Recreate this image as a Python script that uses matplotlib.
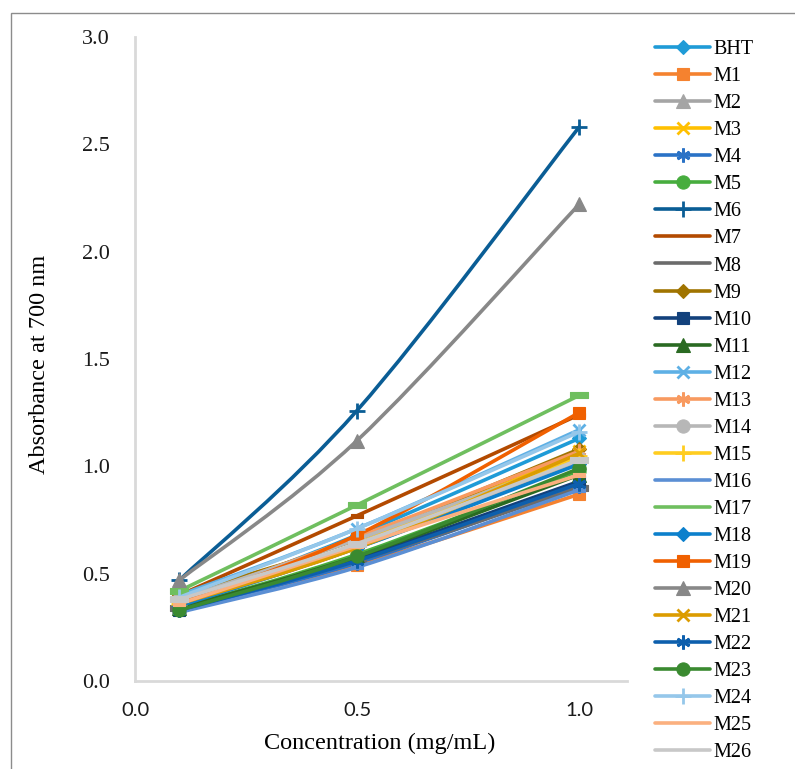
import numpy as np
import matplotlib.pyplot as plt
from matplotlib.path import Path
from matplotlib.patches import PathPatch, Rectangle
from matplotlib.lines import Line2D

# concentrations (mg/mL)
conc = [0.1, 0.5, 1.0]

series_names = ['BHT'] + ['M%d' % i for i in range(1, 27)]

# absorbance at 700 nm
bht = [0.36, 0.68, 1.13]
m1 = [0.34, 0.54, 0.87]
m2 = [0.35, 0.62, 1.02]
m3 = [0.35, 0.64, 1.07]
m4 = [0.33, 0.55, 0.91]
m5 = [0.34, 0.59, 0.98]
m6 = [0.47, 1.26, 2.58]
m7 = [0.40, 0.77, 1.24]
m8 = [0.34, 0.56, 0.90]
m9 = [0.40, 0.66, 1.08]
m10 = [0.33, 0.57, 0.93]
m11 = [0.34, 0.58, 0.96]
m12 = [0.40, 0.71, 1.17]
m13 = [0.37, 0.67, 1.07]
m14 = [0.38, 0.66, 1.04]
m15 = [0.36, 0.63, 1.05]
m16 = [0.32, 0.53, 0.89]
m17 = [0.42, 0.82, 1.33]
m18 = [0.35, 0.62, 1.01]
m19 = [0.36, 0.68, 1.25]
m20 = [0.47, 1.12, 2.22]
m21 = [0.36, 0.62, 1.06]
m22 = [0.33, 0.56, 0.92]
m23 = [0.33, 0.58, 0.99]
m24 = [0.39, 0.71, 1.16]
m25 = [0.36, 0.63, 0.96]
m26 = [0.38, 0.64, 1.03]

values = [bht, m1, m2, m3, m4, m5, m6, m7, m8, m9, m10, m11, m12, m13,
          m14, m15, m16, m17, m18, m19, m20, m21, m22, m23, m24, m25, m26]

colors = ['#1f9bd7', '#f5822f', '#a5a5a5', '#ffc000', '#2a72c6', '#47ad3e',
          '#0a5d95', '#b34a00', '#6b6b6b', '#a07400', '#12417c', '#2a6a22',
          '#5eb0e5', '#f89a60', '#b7b7b7', '#ffcd20', '#5b8fd4', '#6fbf5f',
          '#0c80cc', '#f06000', '#888888', '#dc9c00', '#0d5fad', '#3a8a30',
          '#95c7ea', '#fbb07f', '#c8c8c8']

# Excel automatic marker cycle: diamond, square, triangle, x, star, circle, plus, dash, long dash
dash = [(-1, -0.3), (1, -0.3), (1, 0.3), (-1, 0.3), (-1, -0.3)]
marker_cycle = [('D', 7.5), ('s', 8.5), ('^', 10), ('x', 8), ((6, 2, 0), 10),
                ('o', 9.5), ('+', 11), (dash, 9), (dash, 13)]


def smooth_path(xs, ys):
    # Excel-like smoothed line: cubic Bezier through the points (Catmull-Rom tangents)
    pts = np.column_stack([xs, ys]).astype(float)
    verts = [pts[0]]
    codes = [Path.MOVETO]
    n = len(pts)
    for i in range(n - 1):
        p0 = pts[i - 1] if i > 0 else pts[i]
        p1 = pts[i]
        p2 = pts[i + 1]
        p3 = pts[i + 2] if i + 2 < n else pts[i + 1]
        c1 = p1 + (p2 - p0) / 6.0
        c2 = p2 - (p3 - p1) / 6.0
        verts += [c1, c2, p2]
        codes += [Path.CURVE4] * 3
    return Path(verts, codes)


fig = plt.figure(figsize=(7.95, 7.69), dpi=100)
ax = fig.add_axes([135 / 795, 88 / 769, 492 / 795, 644 / 769])

# outer chart border (cropped on the right and bottom)
fig.patches.append(Rectangle((11 / 795, -0.05), 1.1, 1 - 13 / 769 + 0.05,
                             transform=fig.transFigure, fill=False,
                             edgecolor='#8c8c8c', linewidth=1.0))

handles = []
for idx, (name, vals) in enumerate(zip(series_names, values)):
    c = colors[idx]
    mk, ms = marker_cycle[idx % len(marker_cycle)]
    ax.add_patch(PathPatch(smooth_path(conc, vals), fill=False, edgecolor=c,
                           linewidth=2.6, capstyle='round', joinstyle='round',
                           zorder=2 + idx * 0.01))
    mew = 2.0 if mk in ('x', '+') or isinstance(mk, tuple) else 0.8
    ax.plot(conc, vals, linestyle='none', marker=mk, markersize=ms,
            color=c, markeredgecolor=c, markeredgewidth=mew,
            zorder=2.005 + idx * 0.01)
    # dash markers disappear into the line in the legend
    leg_mk = None if isinstance(mk, list) else mk
    handles.append(Line2D([], [], color=c, linewidth=2.6, marker=leg_mk,
                          markersize=ms, markeredgecolor=c,
                          markeredgewidth=mew, solid_capstyle='round'))

ax.set_xlim(0, 1.108)
ax.set_ylim(0, 3.0)
ax.set_xticks([0.0, 0.5, 1.0])
ax.set_xticklabels(['0.0', '0.5', '1.0'], fontfamily='Lato', fontsize=14.5,
                   color='#1a1a1a')
ax.set_yticks(np.arange(0, 3.01, 0.5))
ax.set_yticklabels(['%.1f' % v for v in np.arange(0, 3.01, 0.5)],
                   fontfamily='Liberation Serif', fontsize=16, color='#1a1a1a')
ax.tick_params(axis='both', length=0)
ax.tick_params(axis='x', pad=15)
ax.tick_params(axis='y', pad=18)
for s in ['top', 'right']:
    ax.spines[s].set_visible(False)
for s in ['left', 'bottom']:
    ax.spines[s].set_color('#d9d9d9')
    ax.spines[s].set_linewidth(2.0)

fig.text(40 / 795, 1 - 364 / 769, 'Absorbance at 700 nm', rotation=90,
         ha='center', va='center', fontfamily='Liberation Serif', fontsize=17.5)
fig.text(380 / 795, 1 - 743 / 769, 'Concentration (mg/mL)', ha='center',
         va='center', fontfamily='Liberation Serif', fontsize=17.5)

fig.legend(handles, series_names, loc='upper left',
           bbox_to_anchor=(655 / 795, 1 - 40 / 769), frameon=False,
           prop={'family': 'Liberation Serif', 'size': 14.5},
           handlelength=2.75, handletextpad=0.15, labelspacing=0.395,
           borderaxespad=0, borderpad=0)

fig.savefig('out.png', dpi=100)
